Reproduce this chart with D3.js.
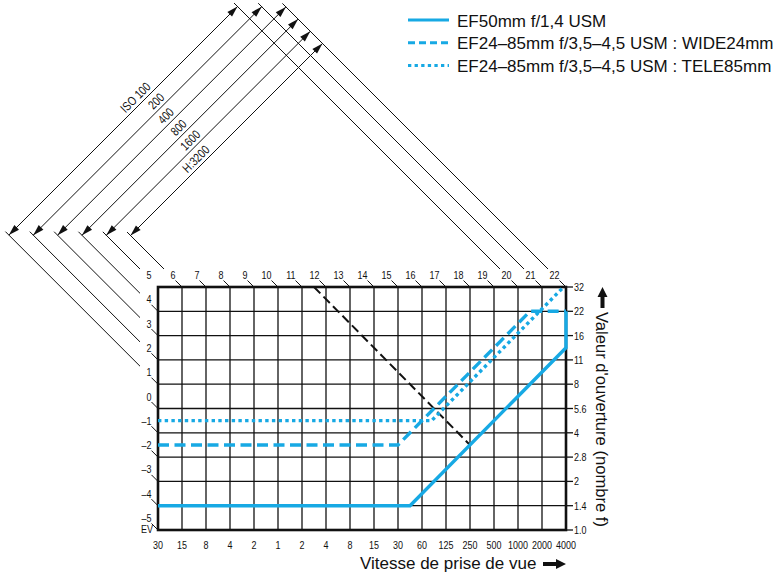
<!DOCTYPE html>
<html>
<head>
<meta charset="utf-8">
<script src="https://cdn.jsdelivr.net/npm/d3@7"></script>
<style>
  body { margin: 0; background: #fff; }
  svg text { font-family: 'Liberation Sans', Arial, sans-serif; fill: #111; }
</style>
</head>
<body>
<svg id="chart" width="776" height="573"></svg>
<script>
// shutter speeds (one column per stop) and apertures (one row per stop)
var shutterLabels = ['30', '15', '8', '4', '2', '1', '2', '4', '8', '15', '30', '60', '125', '250', '500', '1000', '2000', '4000']
var apertureLabels = ['1.0', '1.4', '2', '2.8', '4', '5.6', '8', '11', '16', '22', '32']
var evLeft = [5, 4, 3, 2, 1, 0, -1, -2, -3, -4, -5]
var evTop = d3.range(6, 23)

// metering range per ISO (EV)
var isoLabels = ['ISO 100', '200', '400', '800', '1600', 'H:3200']
var isoEvMin = [1, 2, 3, 4, 5, 6]
var isoEvMax = [20, 21, 22, 22, 22, 22]

// program lines: [shutter stop index, aperture stop index]
var seriesNames = ['EF50mm f/1,4 USM', 'EF24–85mm f/3,5–4,5 USM : WIDE24mm', 'EF24–85mm f/3,5–4,5 USM : TELE85mm']
var ef50 = [[0, 1], [10.5, 1], [17, 7.5], [17, 9]]
var wide24 = [[0, 3.5], [10, 3.5], [15.5, 9], [17, 9]]
var tele85 = [[0, 4.5], [11.4, 4.5], [16.9, 10]]
var blackLine = [[6.5, 10], [13, 3.5]]

var blue = '#17a9e4'
var svg = d3.select('#chart')

var x = d3.scaleLinear().domain([0, 17]).range([158, 566])
var y = d3.scaleLinear().domain([0, 10]).range([530, 287])

// condensed small text (no narrow face installed)
function narrow(sel, px, py, rot) {
  return sel.attr('transform', (d, i) => 'translate(' + px(d, i) + ',' + py(d, i) + ')' + (rot ? ' rotate(' + rot + ')' : '') + ' scale(0.78,1)')
    .attr('font-size', 11.5)
}

// grid position where an EV diagonal meets the left or top edge
function evPoint(e) {
  return e <= 5 ? [x(0), y(e + 5)] : [x(e - 5), y(10)]
}
function evText(e) { return e < 0 ? '–' + (-e) : '' + e }

// ---- grid ----
var grid = svg.append('g').attr('stroke', '#111')
grid.selectAll('line.v').data(d3.range(1, 17)).enter().append('line')
  .attr('x1', d => x(d)).attr('x2', d => x(d))
  .attr('y1', y(0)).attr('y2', y(10))
  .attr('stroke-width', 1.3)
grid.selectAll('line.h').data(d3.range(1, 10)).enter().append('line')
  .attr('y1', d => y(d)).attr('y2', d => y(d))
  .attr('x1', x(0)).attr('x2', x(17))
  .attr('stroke-width', 1.3)
grid.append('rect')
  .attr('x', x(0)).attr('y', y(10))
  .attr('width', x(17) - x(0)).attr('height', y(0) - y(10))
  .attr('fill', 'none').attr('stroke-width', 2.6)

// right axis (aperture)
svg.selectAll('line.rt').data(apertureLabels).enter().append('line')
  .attr('x1', x(17)).attr('x2', x(17) + 7)
  .attr('y1', (d, i) => y(i)).attr('y2', (d, i) => y(i))
  .attr('stroke', '#111').attr('stroke-width', 1.3)
narrow(svg.selectAll('text.ap').data(apertureLabels).enter().append('text'),
  d => x(17) + 8, (d, i) => y(i) + 4)
  .text(d => d)

// bottom axis (shutter)
narrow(svg.selectAll('text.sh').data(shutterLabels).enter().append('text'),
  (d, i) => x(i), d => y(0) + 19)
  .attr('text-anchor', 'middle')
  .text(d => d)

// EV ticks and labels
var evAll = evLeft.concat(evTop)
svg.selectAll('line.evt').data(evAll.filter(e => e != 5)).enter().append('line')
  .attr('x1', e => evPoint(e)[0] - 6.5).attr('y1', e => evPoint(e)[1] - 6.5)
  .attr('x2', e => evPoint(e)[0]).attr('y2', e => evPoint(e)[1])
  .attr('stroke', '#111').attr('stroke-width', 1)
narrow(svg.selectAll('text.ev').data(evAll).enter().append('text'),
  e => evPoint(e)[0] - 6.5, e => evPoint(e)[1] - 8)
  .attr('text-anchor', 'end')
  .text(evText)
narrow(svg.selectAll('text.evl').data(['EV']).enter().append('text'),
  d => x(0) - 5, d => y(0) + 3)
  .attr('text-anchor', 'end')
  .text(d => d)

// ---- ISO dimension lines ----
var iso = svg.append('g')
var K = isoLabels.map((d, i) => 244 + 24.4 * i)   // x + y of each dimension line
function D(e) { var p = evPoint(e); return p[0] - p[1] }
function onLine(k, u) { return [(k + u) / 2, (k - u) / 2] }

// extension lines (one per EV that is used)
var usedEv = Array.from(new Set(isoEvMin.concat(isoEvMax)))
usedEv.forEach(function(e) {
  var p = evPoint(e)
  var kmin = d3.min(isoLabels.map((d, i) => (isoEvMin[i] == e || isoEvMax[i] == e) ? K[i] : Infinity))
  var end = onLine(kmin - 7, D(e))
  iso.append('line')
    .attr('x1', p[0] - 18).attr('y1', p[1] - 18)
    .attr('x2', end[0]).attr('y2', end[1])
    .attr('stroke', '#111').attr('stroke-width', 1)
})

function arrowHead(tip, dir) {
  var len = 11, w = 3.3
  var bx = tip[0] - dir[0] * len, by = tip[1] - dir[1] * len
  var nx = -dir[1] * w, ny = dir[0] * w
  return 'M' + tip[0] + ',' + tip[1] + 'L' + (bx + nx) + ',' + (by + ny) + 'L' + (bx - nx) + ',' + (by - ny) + 'Z'
}

var labelU = [38, 55, 50, 51, 50, 37]
isoLabels.forEach(function(lab, i) {
  var a = onLine(K[i], D(isoEvMin[i]))
  var b = onLine(K[i], D(isoEvMax[i]))
  iso.append('line')
    .attr('x1', a[0]).attr('y1', a[1]).attr('x2', b[0]).attr('y2', b[1])
    .attr('stroke', '#111').attr('stroke-width', 1)
  var s = Math.SQRT1_2
  iso.append('path').attr('d', arrowHead(a, [-s, s])).attr('fill', '#111')
  iso.append('path').attr('d', arrowHead(b, [s, -s])).attr('fill', '#111')
  var c = onLine(K[i] - 5, labelU[i])
  iso.append('text')
    .attr('transform', 'translate(' + c[0] + ',' + c[1] + ') rotate(-45) scale(0.8,1)')
    .attr('text-anchor', 'middle')
    .attr('font-size', 12.5)
    .text(lab)
})

// ---- program lines ----
var line = d3.line().x(d => x(d[0])).y(d => y(d[1]))
svg.append('path').datum(blackLine).attr('d', line)
  .attr('fill', 'none').attr('stroke', '#111').attr('stroke-width', 2)
  .attr('stroke-dasharray', '9,4.5')
svg.append('path').datum(tele85).attr('d', line)
  .attr('fill', 'none').attr('stroke', blue).attr('stroke-width', 3.4)
  .attr('stroke-dasharray', '3.4,3.3')
svg.append('path').datum(wide24).attr('d', line)
  .attr('fill', 'none').attr('stroke', blue).attr('stroke-width', 3.4)
  .attr('stroke-dasharray', '11,5.5')
svg.append('path').datum(ef50).attr('d', line)
  .attr('fill', 'none').attr('stroke', blue).attr('stroke-width', 3.4)

// ---- legend ----
var dashes = [null, '7,4', '3.3,3.3']
var leg = svg.append('g').selectAll('g').data(seriesNames).enter().append('g')
  .attr('transform', (d, i) => 'translate(408,' + (20 + 22.7 * i) + ')')
leg.append('line').attr('x1', 0).attr('x2', 41)
  .attr('stroke', blue).attr('stroke-width', 3)
  .attr('stroke-dasharray', (d, i) => dashes[i])
leg.append('text')
  .attr('x', 49).attr('y', 6.5)
  .attr('font-size', 17)
  .text(d => d)

// ---- axis titles ----
svg.append('text')
  .attr('x', 360).attr('y', 568.5)
  .attr('font-size', 17)
  .text('Vitesse de prise de vue')
svg.append('path')
  .attr('d', 'M543,562L556,562L556,559L566,564L556,569L556,566L543,566Z')
  .attr('fill', '#111')

svg.append('text')
  .attr('transform', 'translate(596,312) rotate(90)')
  .attr('font-size', 16.6)
  .text("Valeur d'ouverture (nombre f)")
svg.append('path')
  .attr('d', 'M600.5,308L600.5,297L597.5,297L602.5,287L607.5,297L604.5,297L604.5,308Z')
  .attr('fill', '#111')
</script>
</body>
</html>
